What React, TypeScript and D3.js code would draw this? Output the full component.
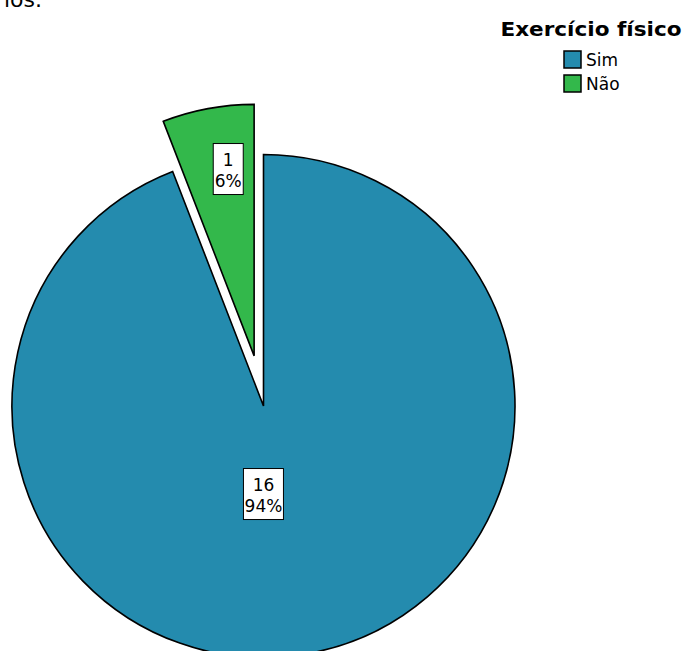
import React from "react";
import * as d3 from "d3";

const categories = ["Sim", "Não"];
const counts = [16, 1];
const percentLabels = ["94%", "6%"];
const colors = ["#248bae", "#33b84b"];
const legendTitle = "Exercício físico";
const titleFragment = "ios.";

export default function App() {
  const W = 686, H = 651;
  const cx = 263.5, cy = 406, R = 251.5;
  const explode = 51;
  const pie = d3.pie<number>().sort(null).startAngle(0).endAngle(2 * Math.PI);
  const arcs = pie(counts);
  const arc = d3.arc<d3.PieArcDatum<number>>().innerRadius(0).outerRadius(R);
  const labelFrac = [0.35, 0.75];
  const labelAngleShift = [Math.PI * 0.059, Math.PI * 0.015];
  const fontFam = "'DejaVu Sans', Verdana, sans-serif";
  return (
    <svg width={W} height={H} style={{ position: "absolute", left: 0, top: 0, background: "#fff" }}>
      <text x={42} y={7} textAnchor="end" fontFamily={fontFam} fontSize={22} fill="#000">{titleFragment}</text>
      {arcs.map((a, i) => {
        const mid = (a.startAngle + a.endAngle) / 2;
        const off = i === 1 ? explode : 0;
        const dx = Math.sin(mid) * off, dy = -Math.cos(mid) * off;
        const lr = R * labelFrac[i];
        const la = mid + labelAngleShift[i];
        const lx = Math.sin(la) * lr, ly = -Math.cos(la) * lr;
        const bw = i === 0 ? 40 : 30;
        return (
          <g key={i} transform={`translate(${cx + dx},${cy + dy})`}>
            <path d={arc(a) || ""} fill={colors[i]} stroke="#000" strokeWidth={1.6} strokeLinejoin="miter" />
            <rect x={lx - bw / 2} y={ly - 25.5} width={bw} height={51} fill="#fff" stroke="#000" strokeWidth={1} />
            <text x={lx} y={ly - 3} textAnchor="middle" fontFamily={fontFam} fontSize={17} fill="#000">{counts[i]}</text>
            <text x={lx} y={ly + 18} textAnchor="middle" fontFamily={fontFam} fontSize={17} fill="#000">{percentLabels[i]}</text>
          </g>
        );
      })}
      <text x={591} y={36} textAnchor="middle" fontFamily={fontFam} fontWeight="bold" fontSize={20} textLength={181} lengthAdjust="spacingAndGlyphs" fill="#000">{legendTitle}</text>
      {categories.map((c, i) => (
        <g key={c} transform={`translate(564,${51 + i * 24})`}>
          <rect x={0} y={0} width={17} height={17} fill={colors[i]} stroke="#000" strokeWidth={1.5} />
          <text x={22} y={15} fontFamily={fontFam} fontSize={17} fill="#000">{c}</text>
        </g>
      ))}
    </svg>
  );
}
